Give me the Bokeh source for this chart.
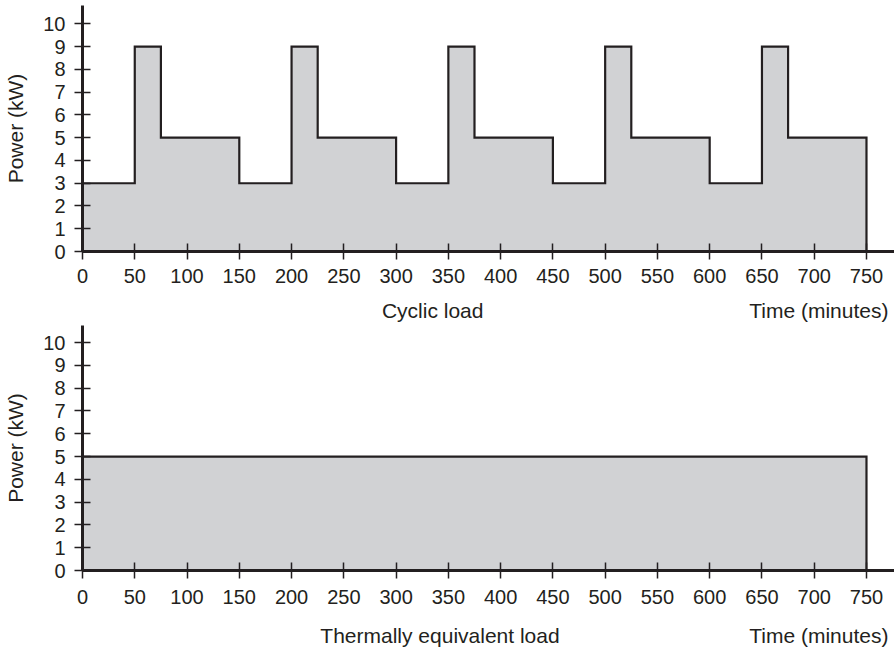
from bokeh.plotting import figure
from bokeh.layouts import column
from bokeh.models import Range1d, FixedTicker
from bokeh.core.properties import value
from bokeh.embed import file_html
from bokeh.resources import INLINE

# Cyclic load: step boundaries (minutes) and power on each step (kW)
cyclic_edges = [0, 50, 75, 150, 200, 225, 300, 350, 375, 450, 500, 525, 600, 650, 675, 750]
cyclic_power = [3, 9, 5, 3, 9, 5, 3, 9, 5, 3, 9, 5, 3, 9, 5]

# Thermally equivalent load: one constant step
equiv_edges = [0, 750]
equiv_power = [5]

x_ticks = list(range(0, 751, 50))
y_ticks = list(range(0, 11))

FONT = "Liberation Sans"
INK = "#231f20"
FILL = "#d1d2d4"
X_END = 776.8


def step_outline(edges, values):
    xs, ys = [edges[0]], [0]
    for i, v in enumerate(values):
        xs += [edges[i], edges[i + 1]]
        ys += [v, v]
    xs.append(edges[-1])
    ys.append(0)
    return xs, ys


def panel(edges, values, height, top_border, bottom_border, y_end, label_standoff):
    p = figure(width=894, height=height, output_backend="svg", toolbar_location=None,
               x_range=Range1d(0, X_END), y_range=Range1d(0, y_end),
               min_border_left=82, min_border_right=0,
               min_border_top=top_border, min_border_bottom=bottom_border)
    p.outline_line_color = None
    p.xgrid.visible = False
    p.ygrid.visible = False

    xs, ys = step_outline(edges, values)
    p.patch(xs, ys, fill_color=FILL, line_color=INK, line_width=2.2,
            line_join="miter")

    for ax in (p.xaxis[0], p.yaxis[0]):
        ax.axis_line_width = 3
        ax.axis_line_color = INK
        ax.major_tick_line_color = INK
        ax.major_tick_line_width = 1.5
        ax.major_tick_in = 8
        ax.major_tick_out = 8
        ax.minor_tick_line_color = None
        ax.major_label_text_font = FONT
        ax.major_label_text_font_size = "20px"
        ax.major_label_text_color = INK

    p.xaxis.ticker = FixedTicker(ticks=x_ticks)
    p.yaxis.ticker = FixedTicker(ticks=y_ticks)
    p.xaxis.major_label_standoff = label_standoff
    p.yaxis.major_label_standoff = 9

    p.yaxis.axis_label = "Power (kW)"
    p.yaxis.axis_label_text_font = FONT
    p.yaxis.axis_label_text_font_size = "21px"
    p.yaxis.axis_label_text_font_style = "normal"
    p.yaxis.axis_label_text_color = INK
    p.yaxis.axis_label_standoff = 13
    return p


def caption_strip(height, caption, caption_x, mid):
    # A thin axis-free strip sharing the panel's x scale, holding the captions
    s = figure(width=894, height=height, output_backend="svg", toolbar_location=None,
               x_range=Range1d(0, X_END), y_range=Range1d(0, height),
               x_axis_type=None, y_axis_type=None,
               min_border_left=82, min_border_right=0,
               min_border_top=0, min_border_bottom=0)
    s.outline_line_color = None
    s.xgrid.visible = False
    s.ygrid.visible = False
    s.text(x=[caption_x], y=[mid], text=[caption], text_align="center",
           text_baseline="middle", text_font=value(FONT),
           text_font_size="21px", text_color=INK)
    s.text(x=[771], y=[mid], text=["Time (minutes)"], text_align="right",
           text_baseline="middle", text_font=value(FONT),
           text_font_size="21px", text_color=INK)
    return s


top = panel(cyclic_edges, cyclic_power, 285, 5, 34, 10.81, 9)
top_caption = caption_strip(40, "Cyclic load", 335, 15.5)
bottom = panel(equiv_edges, equiv_power, 283, 0, 38, 10.75, 11)
bottom_caption = caption_strip(39, "Thermally equivalent load", 342, 12)

layout = column(top, top_caption, bottom, bottom_caption, spacing=0)

open("out.html", "w").write(file_html(layout, INLINE))
